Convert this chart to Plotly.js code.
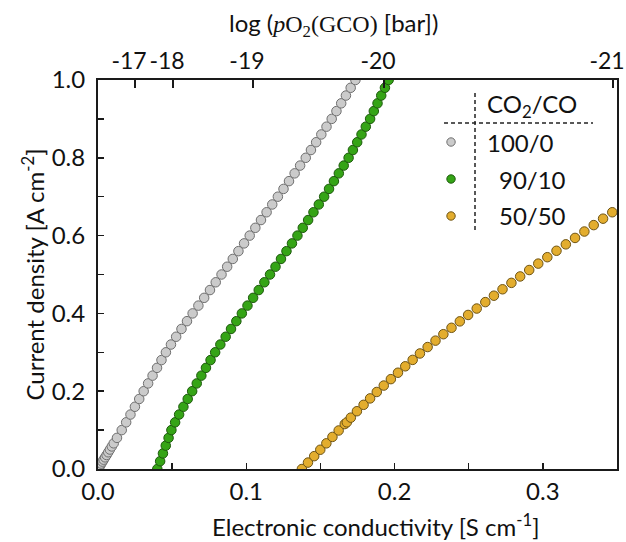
<!DOCTYPE html>
<html>
<head>
<meta charset="utf-8">
<script src="https://cdn.plot.ly/plotly-3.0.1.min.js"></script>
<style>html,body{margin:0;padding:0;background:#fff}#chart{width:626px;height:542px}</style>
</head>
<body>
<div id="chart"></div>
<script>
// Series: CO2/CO = 100/0 (gray)
const grayX = [0, 0.0005, 0.001, 0.0016, 0.0022, 0.003, 0.0038, 0.0048, 0.0058, 0.0069, 0.008, 0.0093, 0.0106, 0.0128, 0.0160, 0.0190, 0.0219, 0.0249, 0.0278, 0.0308, 0.0338, 0.0368, 0.0398, 0.0428, 0.0458, 0.0492, 0.0527, 0.0563, 0.0600, 0.0638, 0.0677, 0.0716, 0.0755, 0.0794, 0.0833, 0.0871, 0.0909, 0.0947, 0.0985, 0.1023, 0.1061, 0.1099, 0.1137, 0.1175, 0.1213, 0.1251, 0.1288, 0.1326, 0.1363, 0.1401, 0.1436, 0.1471, 0.1506, 0.1541, 0.1576, 0.1608, 0.1640, 0.1672, 0.1704, 0.1736];
const grayY = [0, 0.003, 0.006, 0.010, 0.014, 0.019, 0.024, 0.030, 0.036, 0.043, 0.050, 0.058, 0.066, 0.08, 0.10, 0.12, 0.14, 0.16, 0.18, 0.20, 0.22, 0.24, 0.26, 0.28, 0.30, 0.32, 0.34, 0.36, 0.38, 0.40, 0.42, 0.44, 0.46, 0.48, 0.50, 0.52, 0.54, 0.56, 0.58, 0.60, 0.62, 0.64, 0.66, 0.68, 0.70, 0.72, 0.74, 0.76, 0.78, 0.80, 0.82, 0.84, 0.86, 0.88, 0.90, 0.92, 0.94, 0.96, 0.98, 1.00];

// Series: CO2/CO = 90/10 (green)
const greenX = [0.0400, 0.0419, 0.0438, 0.0457, 0.0476, 0.0495, 0.0520, 0.0547, 0.0576, 0.0605, 0.0635, 0.0666, 0.0697, 0.0728, 0.0759, 0.0790, 0.0825, 0.0861, 0.0897, 0.0933, 0.0970, 0.1008, 0.1046, 0.1084, 0.1122, 0.1160, 0.1197, 0.1234, 0.1271, 0.1308, 0.1345, 0.1381, 0.1417, 0.1453, 0.1489, 0.1525, 0.1558, 0.1591, 0.1624, 0.1657, 0.1690, 0.1719, 0.1748, 0.1777, 0.1806, 0.1835, 0.1860, 0.1885, 0.1910, 0.1935, 0.1960];
const greenY = [0.00, 0.02, 0.04, 0.06, 0.08, 0.10, 0.12, 0.14, 0.16, 0.18, 0.20, 0.22, 0.24, 0.26, 0.28, 0.30, 0.32, 0.34, 0.36, 0.38, 0.40, 0.42, 0.44, 0.46, 0.48, 0.50, 0.52, 0.54, 0.56, 0.58, 0.60, 0.62, 0.64, 0.66, 0.68, 0.70, 0.72, 0.74, 0.76, 0.78, 0.80, 0.82, 0.84, 0.86, 0.88, 0.90, 0.92, 0.94, 0.96, 0.98, 1.00];

// Series: CO2/CO = 50/50 (gold)
const goldX = [0.1375, 0.1416, 0.1458, 0.1499, 0.1540, 0.1581, 0.1623, 0.1664, 0.1678, 0.1705, 0.1746, 0.1791, 0.1835, 0.1880, 0.1927, 0.1975, 0.2023, 0.2072, 0.2122, 0.2171, 0.2223, 0.2276, 0.2329, 0.2384, 0.2440, 0.2496, 0.2554, 0.2612, 0.2670, 0.2728, 0.2788, 0.2847, 0.2908, 0.2969, 0.3030, 0.3092, 0.3155, 0.3217, 0.3280, 0.3343, 0.3406, 0.3468];
const goldY = [0.000, 0.0165, 0.033, 0.0495, 0.066, 0.0825, 0.099, 0.1155, 0.120, 0.132, 0.1485, 0.165, 0.1815, 0.198, 0.2145, 0.231, 0.2475, 0.264, 0.2805, 0.297, 0.3135, 0.330, 0.3465, 0.363, 0.3795, 0.396, 0.4125, 0.429, 0.4455, 0.462, 0.4785, 0.495, 0.5115, 0.528, 0.5445, 0.561, 0.5775, 0.594, 0.6105, 0.627, 0.6435, 0.660];

// Top axis: log(pO2) tick labels and their positions on the conductivity scale
const topTickVals = [0.0250, 0.0506, 0.1045, 0.1929, 0.3473];
const topTickText = ['-17', '-18', '-19', '-20', '-21'];

// Texts
const xTitle = 'Electronic conductivity [S cm<sup>-1</sup>]';
const x2Title = 'log (<span style="font-family:\'Liberation Serif\',serif"><i>p</i>O<sub>2</sub>(GCO)</span> [bar])';
const yTitle = 'Current density [A cm<sup>-2</sup>]';
const legendHeader = 'CO<sub>2</sub>/CO';
const legendLabels = ['100/0', '90/10', '50/50'];

const FONT = 'Lato, "Open Sans", sans-serif';
const TXT = '#111';
const AX = '#1a1a1a';
const FS = 24;

const styles = [
  {fill: '#cbcbcb', line: '#6f6f6f'},
  {fill: '#35a416', line: '#1d5a0c'},
  {fill: '#e3ad2e', line: '#6e5415'}
];

function mk(x, y, s, name) {
  return {
    x: x, y: y, type: 'scatter', mode: 'markers', name: name,
    showlegend: false, hoverinfo: 'x+y',
    marker: {size: 9.5, color: s.fill, line: {color: s.line, width: 1}}
  };
}

const traces = [
  mk(grayX, grayY, styles[0], legendLabels[0]),
  mk(greenX, greenY, styles[1], legendLabels[1]),
  mk(goldX, goldY, styles[2], legendLabels[2]),
  // carrier for the top axis (invisible)
  {x: goldX, y: goldY, xaxis: 'x2', type: 'scatter', mode: 'markers',
   marker: {opacity: 0}, showlegend: false, hoverinfo: 'skip'}
];

// legend geometry in paper coordinates
const legX0 = 0.6802, legTextX1 = 0.7457, legTextX2 = 0.7688;
const legRowsY = [0.8406, 0.7455, 0.6504];

const shapes = [
  {type: 'line', xref: 'paper', yref: 'paper', x0: 0.7264, x1: 0.7264, y0: 0.9666, y1: 0.6093,
   line: {color: '#222', width: 1.5, dash: '4px,3px'}},
  {type: 'line', xref: 'paper', yref: 'paper', x0: 0.6667, x1: 0.9538, y0: 0.8895, y1: 0.8895,
   line: {color: '#222', width: 1.5, dash: '4px,3px'}}
];
legendLabels.forEach((lab, i) => {
  shapes.push({type: 'circle', xref: 'paper', yref: 'paper',
    xsizemode: 'pixel', ysizemode: 'pixel', xanchor: legX0, yanchor: legRowsY[i],
    x0: -4.2, x1: 4.2, y0: -4.2, y1: 4.2,
    fillcolor: styles[i].fill, line: {color: styles[i].line, width: 1}});
});

const annotations = [
  {text: legendHeader, xref: 'paper', yref: 'paper', x: legTextX1, y: 0.9357,
   xanchor: 'left', yanchor: 'middle', showarrow: false, font: {family: FONT, size: FS, color: TXT}},
  {text: xTitle, xref: 'paper', yref: 'paper', x: 0.5356, y: -0.144,
   xanchor: 'center', yanchor: 'middle', showarrow: false, font: {family: FONT, size: FS, color: TXT}},
  {text: x2Title, xref: 'paper', yref: 'paper', x: 0.4528, y: 1.1414,
   xanchor: 'center', yanchor: 'middle', showarrow: false, font: {family: FONT, size: FS, color: TXT}}
];
legendLabels.forEach((lab, i) => {
  annotations.push({text: lab, xref: 'paper', yref: 'paper', x: i === 0 ? legTextX1 : legTextX2, y: legRowsY[i],
    xanchor: 'left', yanchor: 'middle', showarrow: false, font: {family: FONT, size: FS, color: TXT}});
});

const layout = {
  width: 626, height: 542,
  margin: {l: 98, r: 9, t: 80, b: 73},
  paper_bgcolor: '#fff', plot_bgcolor: '#fff',
  font: {family: FONT, size: FS, color: TXT},
  showlegend: false,
  xaxis: {
    range: [0, 0.35], dtick: 0.1, tick0: 0, tickformat: '.1f', tickangle: 0,
    ticks: 'inside', ticklen: 6, tickwidth: 1.5, tickcolor: AX,
    minor: {dtick: 0.05, tick0: 0, ticks: 'inside', ticklen: 6, tickwidth: 1.5, tickcolor: AX},
    showline: true, linecolor: AX, linewidth: 2, mirror: false,
    showgrid: false, zeroline: false, ticklabeloverflow: 'allow',
    tickfont: {family: FONT, size: FS, color: TXT}
  },
  xaxis2: {
    overlaying: 'x', side: 'top', range: [0, 0.35], tickangle: 0,
    tickmode: 'array', tickvals: topTickVals, ticktext: topTickText,
    ticks: 'inside', ticklen: 8, tickwidth: 1.5, tickcolor: AX,
    showline: true, linecolor: AX, linewidth: 2, ticklabelshift: -6,
    showgrid: false, zeroline: false, ticklabeloverflow: 'allow',
    tickfont: {family: FONT, size: 23, color: TXT}
  },
  yaxis: {
    range: [0, 1.0], dtick: 0.2, tick0: 0, tickformat: '.1f',
    ticks: 'inside', ticklen: 6, tickwidth: 1.5, tickcolor: AX,
    minor: {dtick: 0.1, tick0: 0, ticks: 'inside', ticklen: 6, tickwidth: 1.5, tickcolor: AX},
    showline: true, linecolor: AX, linewidth: 2, mirror: true,
    showgrid: false, zeroline: false, ticklabeloverflow: 'allow',
    ticklabelstandoff: 6,
    tickfont: {family: FONT, size: FS, color: TXT},
    title: {text: yTitle, standoff: 0, font: {family: FONT, size: FS, color: TXT}}
  },
  shapes: shapes,
  annotations: annotations
};

Plotly.newPlot('chart', traces, layout, {displayModeBar: false, staticPlot: true});
</script>
</body>
</html>
